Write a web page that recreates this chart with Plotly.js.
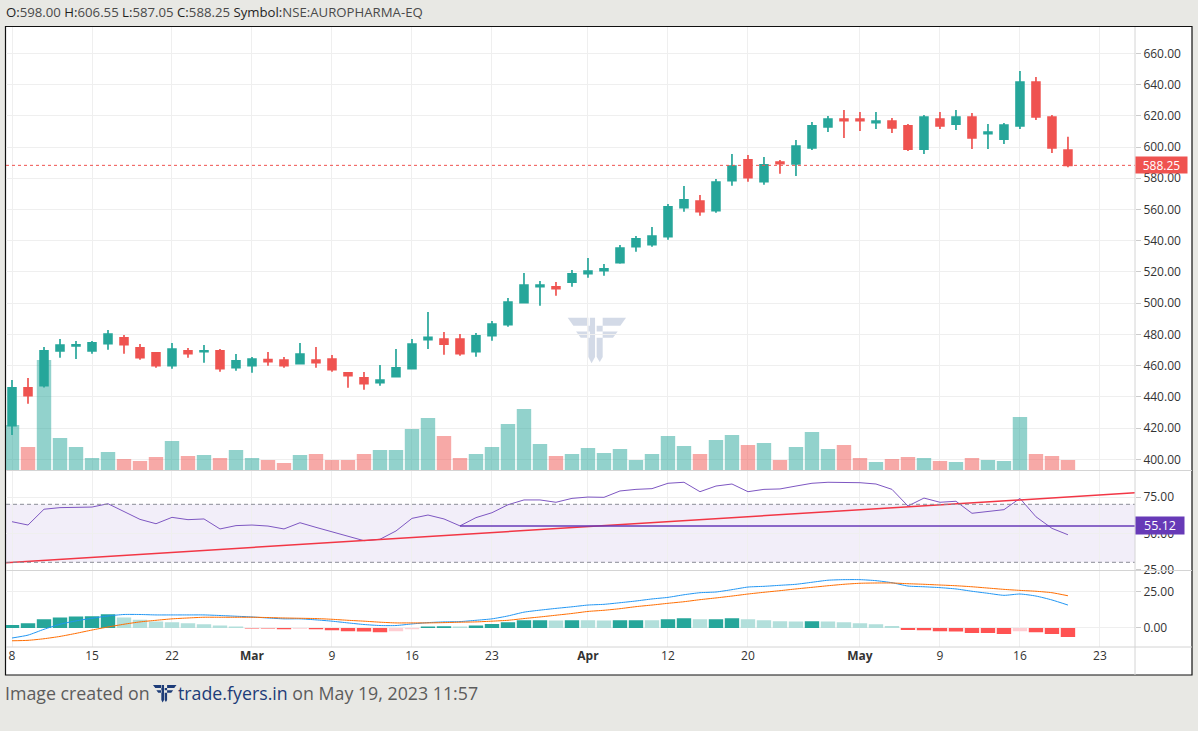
<!DOCTYPE html>
<html><head><meta charset="utf-8">
<script src="https://cdn.plot.ly/plotly-3.0.1.min.js"></script>
<style>html,body{margin:0;padding:0;background:#e8e8e4;}#chart{width:1198px;height:731px;}</style>
</head><body><div id="chart"></div>
<script>
const symbol = 'NSE:AUROPHARMA-EQ';
const createdOn = 'May 19, 2023 11:57';
const dates = ['2023-02-08','2023-02-09','2023-02-10','2023-02-13','2023-02-14','2023-02-15','2023-02-16','2023-02-17','2023-02-20','2023-02-21','2023-02-22','2023-02-23','2023-02-24','2023-02-27','2023-02-28','2023-03-01','2023-03-02','2023-03-03','2023-03-06','2023-03-08','2023-03-09','2023-03-10','2023-03-13','2023-03-14','2023-03-15','2023-03-16','2023-03-17','2023-03-20','2023-03-21','2023-03-22','2023-03-23','2023-03-24','2023-03-27','2023-03-28','2023-03-29','2023-03-31','2023-04-03','2023-04-05','2023-04-06','2023-04-10','2023-04-11','2023-04-12','2023-04-13','2023-04-17','2023-04-18','2023-04-19','2023-04-20','2023-04-21','2023-04-24','2023-04-25','2023-04-26','2023-04-27','2023-04-28','2023-05-02','2023-05-03','2023-05-04','2023-05-05','2023-05-08','2023-05-09','2023-05-10','2023-05-11','2023-05-12','2023-05-15','2023-05-16','2023-05-17','2023-05-18','2023-05-19'];
const futureDates = ['2023-05-22','2023-05-23','2023-05-24','2023-05-25','2023-05-26'];
const open = [421.5,445.7,447.1,469.5,472.6,469.5,474.0,477.7,471.3,468.1,459.9,469.4,468.9,469.4,458.7,459.9,463.8,463.6,461.2,463.6,464.2,455.3,452.1,449.1,452.9,458.0,476.6,477.0,477.0,468.9,479.2,486.2,500.3,510.5,510.5,513.5,518.9,520.8,525.9,536.2,537.4,542.6,561.1,565.4,559.2,578.4,591.7,577.8,590.4,589.1,599.4,612.8,617.9,617.9,615.6,616.6,613.5,598.7,617.9,614.7,619.2,608.5,605.1,613.5,641.6,619.2,598.00];
const high = [450.8,452.1,471.9,477.0,475.8,475.8,482.8,479.6,473.8,468.6,474.5,471.3,473.2,470.6,467.4,465.5,468.7,465.5,474.5,471.9,466.8,455.9,455.9,460.4,470.6,477.0,494.3,481.5,480.2,480.9,488.6,503.3,519.3,514.2,513.5,521.2,528.9,525.1,537.2,543.0,548.8,563.5,575.0,569.3,579.5,595.5,594.9,593.6,591.7,604.5,616.0,619.9,623.7,622.4,622.4,618.6,614.7,620.5,622.4,623.7,621.8,614.7,615.4,648.7,644.8,620.5,606.55];
const low = [415.6,435.6,446.0,465.1,464.2,467.6,470.2,467.6,463.8,458.7,458.0,465.1,461.9,456.1,456.7,455.5,459.9,458.7,461.0,458.7,456.1,445.9,444.6,447.1,452.5,457.5,470.6,467.0,466.3,465.7,476.0,484.9,500.0,498.4,504.8,510.5,516.3,517.6,525.3,532.9,536.2,540.6,558.6,556.0,557.9,575.2,577.8,575.9,582.9,581.4,598.1,609.6,605.8,610.2,611.5,609.0,597.4,595.5,611.5,610.9,598.7,598.7,601.9,611.5,617.3,596.2,587.05];
const close = [445.7,440.7,469.4,473.2,473.3,474.5,480.2,473.4,465.1,459.9,470.6,467.6,469.5,458.0,463.0,464.2,462.5,459.9,467.4,461.9,457.4,453.5,448.4,450.8,458.5,473.8,478.1,473.8,467.6,479.0,486.6,500.7,511.6,511.6,509.3,518.7,520.6,521.9,535.3,541.1,543.0,561.6,566.1,558.6,577.6,587.8,580.3,588.5,589.3,600.6,613.5,617.9,616.8,616.8,616.6,612.2,598.7,619.2,613.5,619.2,605.8,609.6,614.1,641.6,619.2,599.4,588.25];
// volume in millions of shares
const volume = [4.55,2.35,11.05,3.25,2.35,1.25,1.85,1.15,0.95,1.35,2.95,1.45,1.55,1.25,2.05,1.25,1.05,0.75,1.55,1.65,1.05,1.05,1.65,2.05,2.05,4.15,5.25,3.45,1.25,1.65,2.35,4.65,6.15,2.65,1.45,1.65,2.25,1.75,2.15,1.05,1.65,3.45,2.45,1.65,3.05,3.55,2.55,2.75,1.05,2.35,3.85,2.15,2.55,1.25,0.85,1.15,1.35,1.25,0.95,0.85,1.25,1.05,0.95,5.35,1.65,1.45,1.05];
const rsi = [58.0,55.7,66.6,67.7,67.9,68.1,70.4,64.9,59.6,56.6,61.0,59.4,59.9,53.0,55.3,55.7,55.0,53.0,57.3,54.1,50.9,47.9,44.9,45.9,51.6,60.3,62.6,59.9,55.12,60.8,64.2,69.7,73.0,73.0,71.4,74.1,75.0,74.8,79.2,80.3,80.8,84.5,85.2,78.7,82.6,84.0,78.7,80.3,80.6,82.6,84.5,85.2,84.9,84.9,84.0,80.3,68.8,74.3,71.4,72.1,63.8,64.9,66.3,74.1,61.4,53.4,49.0];
const macd = [-6.9,-4.9,-0.9,2.6,4.9,6.7,8.3,9.3,9.3,9.0,9.0,9.0,9.0,8.6,8.1,7.6,6.9,6.3,6.3,5.6,4.7,3.5,2.4,1.7,1.7,2.8,3.7,4.2,4.4,5.3,6.3,8.3,10.9,12.3,13.5,14.6,15.8,16.3,17.4,18.6,20.0,21.1,22.9,24.3,24.8,26.4,28.2,28.7,29.4,30.1,31.5,32.9,33.3,33.3,32.6,31.2,28.9,28.4,27.8,26.9,25.3,23.9,22.5,23.4,22.0,19.3,15.8];
const signal = [-8.8,-8.5,-7.4,-5.8,-3.7,-1.4,0.7,2.6,4.2,5.3,6.3,6.9,7.4,7.4,7.4,7.4,7.2,6.9,6.7,6.5,6.0,5.3,4.7,4.0,3.5,3.5,3.5,3.7,4.0,4.2,4.7,5.3,6.5,7.6,8.8,10.0,11.4,12.2,13.3,14.7,15.8,17.0,18.1,19.5,20.7,22.0,23.4,24.6,25.7,26.9,28.0,29.1,30.1,30.8,31.0,31.0,30.5,30.1,29.6,29.1,28.4,27.5,26.6,25.9,25.3,24.3,22.2];
const hist = [2.1,3.2,6.0,7.3,8.0,8.1,9.4,7.3,5.7,4.4,3.9,3.2,2.5,1.8,1.1,-0.3,-0.4,-0.9,-0.6,-0.9,-1.6,-2.3,-2.4,-3.0,-2.3,-0.9,1.1,1.2,1.1,1.8,2.8,3.9,5.3,5.4,5.2,5.4,5.3,5.2,5.3,5.4,5.3,6.0,6.7,6.0,6.1,6.7,6.0,5.3,4.6,4.5,4.6,4.5,3.9,3.2,2.5,1.4,-1.4,-1.5,-2.3,-2.4,-3.4,-3.5,-4.1,-2.3,-3.0,-4.1,-6.2];
const tickDates = ['2023-02-08','2023-02-15','2023-02-22','2023-03-01','2023-03-09','2023-03-16','2023-03-23','2023-04-03','2023-04-12','2023-04-20','2023-05-02','2023-05-09','2023-05-16','2023-05-23'];
const tickLabels = ['8','15','22','<b>Mar</b>','9','16','23','<b>Apr</b>','12','20','<b>May</b>','9','16','23'];
const priceTicks = [400,420,440,460,480,500,520,540,560,580,600,620,640,660];
const rsiTicks = [25,50,75];
const macdTicks = [0,25];
const rsiBand = [30,70];
const rsiRayStartDate = '2023-03-21';
const trendStart = ['2023-02-08', 30.0];
const trendEnd = ['2023-05-19', 75.1];

// ---- layout geometry (pixels) ----
const W = 1198, H = 731, L = 6, R = 1135, T = 27, B = 647;
const PW = R - L, PH = B - T;
const P = x => (x - L) / PW;
const Q = y => (B - y) / PH;

const axisDates = dates.concat(futureDates);
const idx = d => axisDates.indexOf(d);
const xs = dates.map((d, i) => i);
const n = dates.length;
const xRange = [-0.375, 70.19];

const UP = '#26a69a', DN = '#ef5350';
const isUp = close.map((c, i) => c >= open[i]);
const volColors = isUp.map(u => u ? 'rgba(38,166,154,0.5)' : 'rgba(239,83,80,0.5)');
const histColors = hist.map((h, i) => {
  const prev = i > 0 ? hist[i - 1] : -Infinity;
  if (h >= 0) return h > prev ? '#26a69a' : '#b2dfdb';
  return h > prev ? '#ffcdd2' : '#ff5252';
});

const fmt = v => v.toFixed(2);
const last = n - 1;

const tx0 = idx(trendStart[0]), tx1 = idx(trendEnd[0]);
const slope = (trendEnd[1] - trendStart[1]) / (tx1 - tx0);
const trendX = [xRange[0] - 1, xRange[1] + 1];
const trendY = trendX.map(x => trendStart[1] + slope * (x - tx0));
const rayStart = idx(rsiRayStartDate);
const rayLevel = rsi[rayStart];

const traces = [
  {type: 'bar', x: xs, y: volume, yaxis: 'y2', marker: {color: volColors, line: {width: 0}}, width: 0.9, hoverinfo: 'skip'},
  {type: 'candlestick', x: xs, open: open, high: high, low: low, close: close, xaxis: 'x', yaxis: 'y',
   increasing: {line: {color: UP, width: 1.7}, fillcolor: UP},
   decreasing: {line: {color: DN, width: 1.7}, fillcolor: DN}, whiskerwidth: 0, hoverinfo: 'skip'},
  {type: 'scatter', mode: 'lines', x: xs, y: rsi, yaxis: 'y3', line: {color: '#7e57c2', width: 1}, hoverinfo: 'skip'},
  {type: 'scatter', mode: 'lines', x: trendX, y: trendY, yaxis: 'y3', line: {color: '#f23645', width: 1.5}, hoverinfo: 'skip'},
  {type: 'scatter', mode: 'lines', x: [rayStart, xRange[1] + 1], y: [rayLevel, rayLevel], yaxis: 'y3', line: {color: '#673ab7', width: 1.5}, hoverinfo: 'skip'},
  {type: 'bar', x: xs, y: hist, yaxis: 'y4', marker: {color: histColors, line: {width: 0}}, width: 0.9, hoverinfo: 'skip'},
  {type: 'scatter', mode: 'lines', x: xs, y: macd, yaxis: 'y4', line: {color: '#2196f3', width: 1, shape: 'spline', smoothing: 0.6}, hoverinfo: 'skip'},
  {type: 'scatter', mode: 'lines', x: xs, y: signal, yaxis: 'y4', line: {color: '#ff6d00', width: 1, shape: 'spline', smoothing: 0.6}, hoverinfo: 'skip'}
];

const gridC = '#efefef';
const tickFont = {family: 'Open Sans, sans-serif', size: 12, color: '#333333'};
const yCommon = {side: 'right', anchor: 'x', showgrid: true, gridcolor: gridC, zeroline: false, ticks: 'outside', ticklen: 5, tickcolor: '#cccccc', tickformat: '.2f', tickfont: tickFont, showline: false, fixedrange: true};

const logoPolys = [
  [[0,0],[0.38,0],[0.38,0.175],[0.097,0.175]],
  [[0.143,0.3],[0.38,0.3],[0.38,0.438],[0.223,0.438]],
  [[0.354,0],[0.469,0],[0.469,0.86],[0.41,1.0],[0.354,0.86]],
  [[0.497,0],[1,0],[0.903,0.175],[0.497,0.175]],
  [[0.497,0.3],[0.857,0.3],[0.777,0.438],[0.497,0.438]],
  [[0.497,0],[0.6,0],[0.6,0.86],[0.55,0.97],[0.497,0.86]]
];
const logoPath = (x0, y0, w, h) => logoPolys.map(poly => 'M' + poly.map(([u, v]) => P(x0 + u * w).toFixed(5) + ',' + Q(y0 + v * h).toFixed(5)).join('L') + 'Z').join(' ');

const shapes = [
  {type: 'rect', xref: 'paper', yref: 'paper', x0: P(5.5), x1: P(1192), y0: Q(675), y1: Q(26.5), fillcolor: '#ffffff', line: {color: '#111111', width: 1.2}, layer: 'below'},
  {type: 'rect', xref: 'paper', yref: 'y3', x0: 0, x1: 1, y0: rsiBand[0], y1: rsiBand[1], fillcolor: 'rgba(126,87,194,0.1)', line: {width: 0}, layer: 'below'},
  {type: 'line', xref: 'paper', yref: 'y3', x0: 0, x1: 1, y0: rsiBand[1], y1: rsiBand[1], line: {color: '#8a8d96', width: 1, dash: '4px,3px'}},
  {type: 'line', xref: 'paper', yref: 'y3', x0: 0, x1: 1, y0: rsiBand[0], y1: rsiBand[0], line: {color: '#8a8d96', width: 1, dash: '4px,3px'}},
  {type: 'line', xref: 'paper', yref: 'y', x0: 0, x1: 1, y0: close[last], y1: close[last], line: {color: '#ef5350', width: 1, dash: 'dot'}},
  {type: 'line', xref: 'paper', yref: 'paper', x0: 0, x1: P(1192), y0: Q(470.5), y1: Q(470.5), line: {color: '#d4d4d4', width: 1}},
  {type: 'line', xref: 'paper', yref: 'paper', x0: 0, x1: P(1192), y0: Q(570.5), y1: Q(570.5), line: {color: '#d4d4d4', width: 1}},
  {type: 'line', xref: 'paper', yref: 'paper', x0: 0, x1: P(1192), y0: 0, y1: 0, line: {color: '#d4d4d4', width: 1}},
  {type: 'line', xref: 'paper', yref: 'paper', x0: 1, x1: 1, y0: Q(675), y1: Q(27), line: {color: '#d4d4d4', width: 1}},
  {type: 'path', xref: 'paper', yref: 'paper', path: logoPath(567.7, 317.7, 58.3, 45.6), fillcolor: 'rgba(175,188,212,0.55)', line: {width: 0}, layer: 'below'},
  {type: 'path', xref: 'paper', yref: 'paper', path: logoPath(153, 685, 23.5, 17.5), fillcolor: '#1d3c78', line: {width: 0}}
];

const lab = s => '<span style="color:#1f1f1f">' + s + '</span>';
const headerText = lab('O:') + fmt(open[last]) + ' ' + lab('H:') + fmt(high[last]) + ' ' + lab('L:') + fmt(low[last]) + ' ' + lab('C:') + fmt(close[last]) + ' ' + lab('Symbol:') + symbol;

const annotations = [
  {xref: 'paper', yref: 'paper', x: P(4), y: Q(12), xanchor: 'left', yanchor: 'middle', showarrow: false, text: headerText, font: {family: 'Open Sans, sans-serif', size: 13.2, color: '#4a4a4a'}},
  {xref: 'paper', yref: 'y', x: 1, y: close[last], xanchor: 'left', yanchor: 'middle', showarrow: false, text: fmt(close[last]), bgcolor: '#ef5350', borderpad: 2, width: 47, height: 12, font: {family: 'Open Sans, sans-serif', size: 12, color: '#ffffff'}},
  {xref: 'paper', yref: 'y3', x: 1, y: rayLevel, xanchor: 'left', yanchor: 'middle', showarrow: false, text: fmt(rayLevel), bgcolor: '#673ab7', borderpad: 2, width: 44, height: 13, font: {family: 'Open Sans, sans-serif', size: 12.5, color: '#ffffff'}},
  {xref: 'paper', yref: 'paper', x: P(3), y: Q(693), xanchor: 'left', yanchor: 'middle', showarrow: false, text: 'Image created on', font: {family: 'Open Sans, sans-serif', size: 17.8, color: '#5c5c5c'}},
  {xref: 'paper', yref: 'paper', x: P(176), y: Q(693), xanchor: 'left', yanchor: 'middle', showarrow: false, text: '<span style="color:#1d3c78">trade.fyers.in</span> on ' + createdOn, font: {family: 'Open Sans, sans-serif', size: 17.8, color: '#5c5c5c'}}
];

const layout = {
  width: W, height: H,
  margin: {l: L, r: W - R, t: T, b: H - B, pad: 0},
  paper_bgcolor: '#e8e8e4', plot_bgcolor: 'rgba(0,0,0,0)',
  showlegend: false, hovermode: false, dragmode: false, barmode: 'overlay',
  xaxis: {range: xRange, anchor: 'y4', rangeslider: {visible: false}, tickmode: 'array', tickvals: tickDates.map(idx), ticktext: tickLabels, showgrid: true, gridcolor: gridC, zeroline: false, showline: false, ticks: '', tickfont: tickFont, fixedrange: true},
  yaxis: Object.assign({}, yCommon, {domain: [Q(470.5), 1], range: [392.83, 676.85], tickvals: priceTicks}),
  yaxis2: {overlaying: 'y', range: [0, 44.35], visible: false, fixedrange: true},
  yaxis3: Object.assign({}, yCommon, {domain: [Q(570), Q(471)], range: [24.69, 92.97], tickvals: rsiTicks}),
  yaxis4: Object.assign({}, yCommon, {domain: [0, Q(570.5)], range: [-13.09, 39.6], tickvals: macdTicks}),
  shapes: shapes,
  annotations: annotations
};

Plotly.newPlot('chart', traces, layout, {displayModeBar: false, staticPlot: true});
</script>
</body></html>
